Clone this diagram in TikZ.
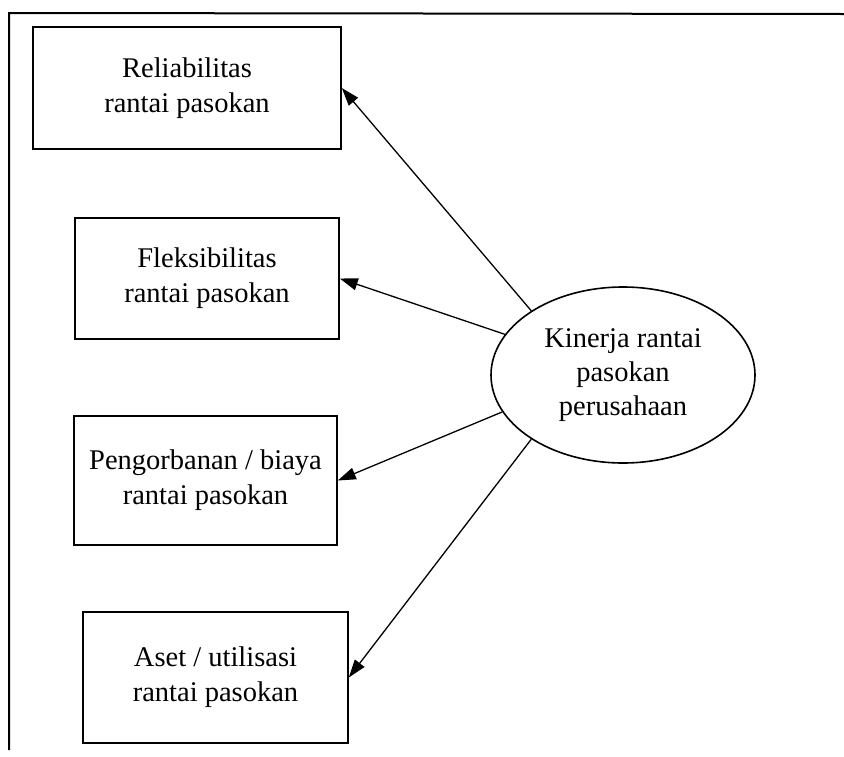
\documentclass[tikz,border=0pt]{standalone}
\usepackage{fontspec}
\setmainfont{Liberation Serif}
\usetikzlibrary{shapes.geometric,arrows.meta}
\begin{document}
\begin{tikzpicture}[x=1pt,y=-1pt,
  box/.style={draw=black,line width=1.6pt,rectangle,align=center,inner sep=0pt,
    font=\fontsize{28.5}{35}\selectfont},
  oval/.style={draw=black,line width=1.6pt,ellipse,align=center,inner sep=0pt,
    minimum width=264pt,minimum height=176pt,font=\fontsize{28.5}{34}\selectfont},
  link/.style={line width=1.3pt,-{Triangle[length=18pt,width=12pt]}}]
\useasboundingbox (0,0) rectangle (844,756);
% frame (top and left only)
\coordinate (ftr) at (844,14);
\coordinate (ftl) at (9,13);
\coordinate (fbl) at (9,750);
\draw[line width=2pt] (ftr) -- (ftl) -- (fbl);
% boxes
\node[box,minimum width=308pt,minimum height=122pt] (b1) at (187,88) {Reliabilitas\\rantai pasokan};
\node[box,minimum width=264pt,minimum height=121pt] (b2) at (207,278.5) {Fleksibilitas\\rantai pasokan};
\node[box,minimum width=263pt,minimum height=129pt] (b3) at (205.5,480.5) {Pengorbanan / biaya\\rantai pasokan};
\node[box,minimum width=265pt,minimum height=131pt] (b4) at (215.5,677.5) {Aset / utilisasi\\rantai pasokan};
% ellipse
\node[oval] (k) at (623,375) {Kinerja rantai\\pasokan\\perusahaan};
% connectors
\draw[link] (k.145) -- (b1.east);
\draw[link] (k.161) -- (b2.east);
\draw[link] (k.197) -- (b3.east);
\draw[link] (k.215) -- (b4.east);
\end{tikzpicture}
\end{document}
